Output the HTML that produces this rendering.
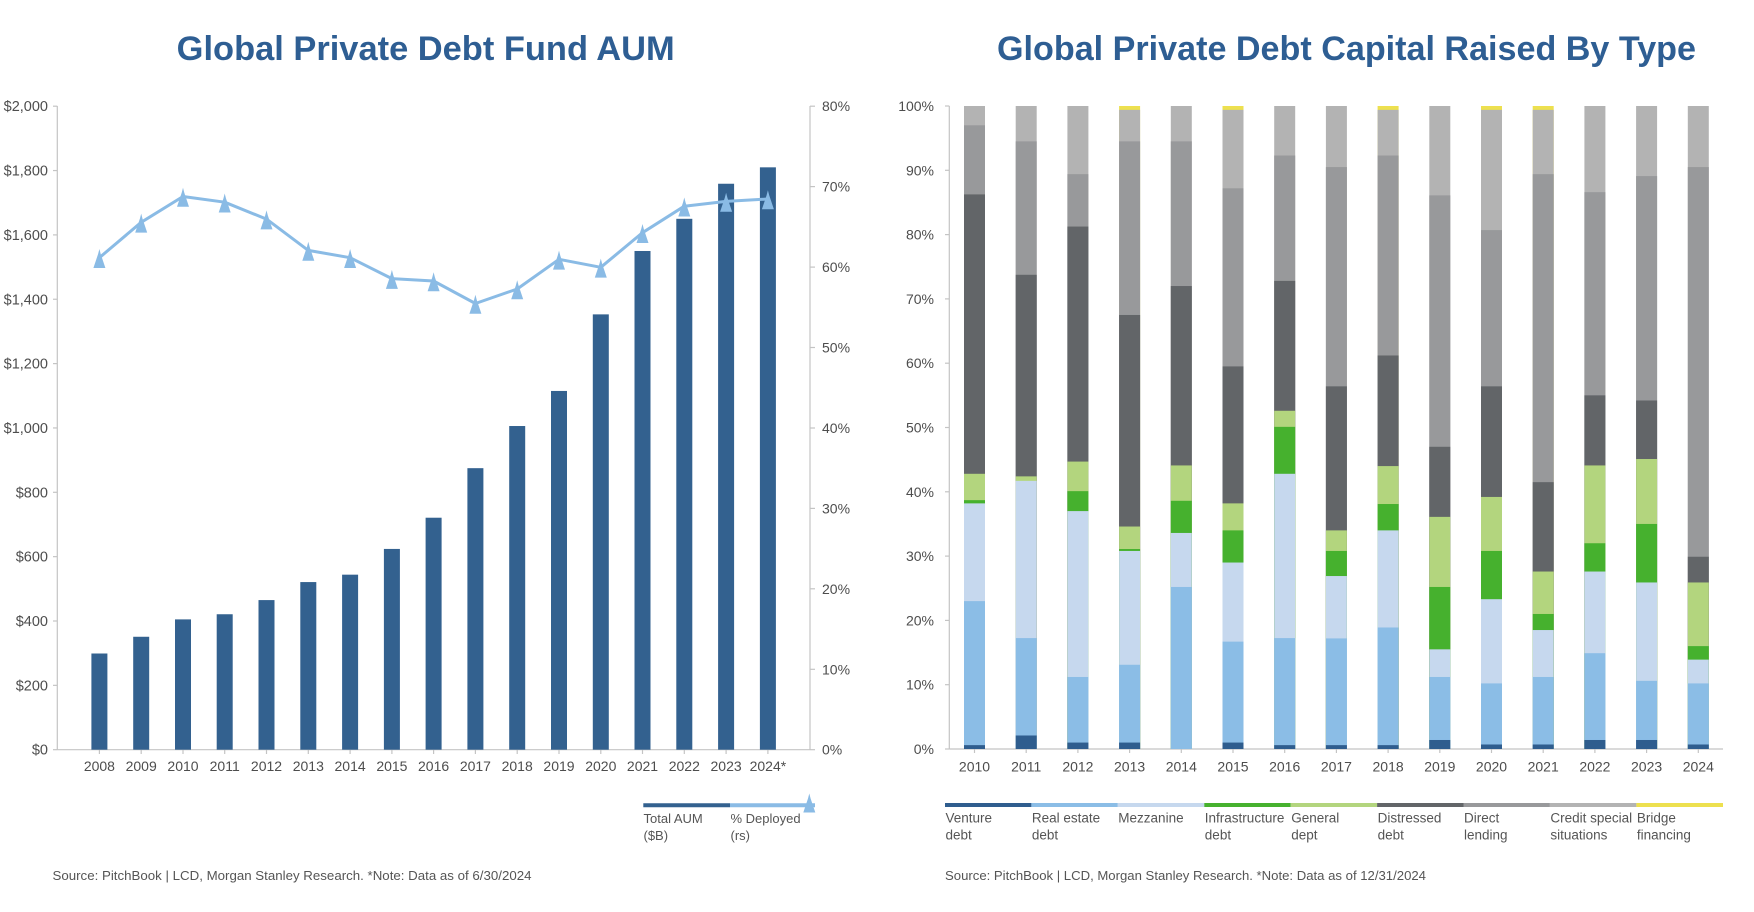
<!DOCTYPE html>
<html>
<head>
<meta charset="utf-8">
<style>
  html,body{margin:0;padding:0;background:#ffffff;}
  svg{display:block;}
  text{font-family:"Liberation Sans",Arial,sans-serif;}
</style>
</head>
<body>
<svg width="1754" height="912" viewBox="0 0 1754 912" xmlns="http://www.w3.org/2000/svg">
  <defs>
    <path id="tri" d="M0,-9.5 L1.3,-4.5 L6,9.5 L-6,9.5 L-1.3,-4.5 Z" fill="#8abbe5"/>
  </defs>
  <rect width="1754" height="912" fill="#ffffff"/>

  <!-- ================= LEFT CHART ================= -->
  <text x="176.7" y="60" font-size="34" font-weight="bold" fill="#2e5e93" textLength="498" lengthAdjust="spacingAndGlyphs">Global Private Debt Fund AUM</text>

  <!-- axes -->
  <g stroke="#c4c4c4" stroke-width="1.2" fill="none">
    <line x1="57.3" y1="106" x2="57.3" y2="749.7"/>
    <line x1="810" y1="106" x2="810" y2="749.7"/>
    <line x1="57.3" y1="749.7" x2="810" y2="749.7"/>
    <!-- left ticks -->
    <line x1="53" y1="749.7" x2="57.3" y2="749.7"/>
    <line x1="53" y1="685.35" x2="57.3" y2="685.35"/>
    <line x1="53" y1="621" x2="57.3" y2="621"/>
    <line x1="53" y1="556.65" x2="57.3" y2="556.65"/>
    <line x1="53" y1="492.3" x2="57.3" y2="492.3"/>
    <line x1="53" y1="427.95" x2="57.3" y2="427.95"/>
    <line x1="53" y1="363.6" x2="57.3" y2="363.6"/>
    <line x1="53" y1="299.25" x2="57.3" y2="299.25"/>
    <line x1="53" y1="234.9" x2="57.3" y2="234.9"/>
    <line x1="53" y1="170.55" x2="57.3" y2="170.55"/>
    <line x1="53" y1="106.2" x2="57.3" y2="106.2"/>
    <!-- right ticks -->
    <line x1="810" y1="749.7" x2="815" y2="749.7"/>
    <line x1="810" y1="669.3" x2="815" y2="669.3"/>
    <line x1="810" y1="588.8" x2="815" y2="588.8"/>
    <line x1="810" y1="508.4" x2="815" y2="508.4"/>
    <line x1="810" y1="428" x2="815" y2="428"/>
    <line x1="810" y1="347.5" x2="815" y2="347.5"/>
    <line x1="810" y1="267.1" x2="815" y2="267.1"/>
    <line x1="810" y1="186.6" x2="815" y2="186.6"/>
    <line x1="810" y1="106.2" x2="815" y2="106.2"/>
    <!-- x ticks -->
    <line x1="99.4" y1="749.7" x2="99.4" y2="754"/>
    <line x1="141.2" y1="749.7" x2="141.2" y2="754"/>
    <line x1="183" y1="749.7" x2="183" y2="754"/>
    <line x1="224.7" y1="749.7" x2="224.7" y2="754"/>
    <line x1="266.5" y1="749.7" x2="266.5" y2="754"/>
    <line x1="308.3" y1="749.7" x2="308.3" y2="754"/>
    <line x1="350.1" y1="749.7" x2="350.1" y2="754"/>
    <line x1="391.9" y1="749.7" x2="391.9" y2="754"/>
    <line x1="433.6" y1="749.7" x2="433.6" y2="754"/>
    <line x1="475.4" y1="749.7" x2="475.4" y2="754"/>
    <line x1="517.2" y1="749.7" x2="517.2" y2="754"/>
    <line x1="559" y1="749.7" x2="559" y2="754"/>
    <line x1="600.8" y1="749.7" x2="600.8" y2="754"/>
    <line x1="642.5" y1="749.7" x2="642.5" y2="754"/>
    <line x1="684.3" y1="749.7" x2="684.3" y2="754"/>
    <line x1="726.1" y1="749.7" x2="726.1" y2="754"/>
    <line x1="767.9" y1="749.7" x2="767.9" y2="754"/>
  </g>

  <!-- left y labels -->
  <g font-size="14.5" fill="#4d4d4d" text-anchor="end">
    <text x="48" y="754.7">$0</text>
    <text x="48" y="690.35">$200</text>
    <text x="48" y="626">$400</text>
    <text x="48" y="561.65">$600</text>
    <text x="48" y="497.3">$800</text>
    <text x="48" y="432.95">$1,000</text>
    <text x="48" y="368.6">$1,200</text>
    <text x="48" y="304.25">$1,400</text>
    <text x="48" y="239.9">$1,600</text>
    <text x="48" y="175.55">$1,800</text>
    <text x="48" y="111.2">$2,000</text>
  </g>
  <!-- right y labels -->
  <g font-size="14" fill="#4d4d4d" text-anchor="start">
    <text x="822" y="754.7">0%</text>
    <text x="822" y="674.3">10%</text>
    <text x="822" y="593.8">20%</text>
    <text x="822" y="513.4">30%</text>
    <text x="822" y="433">40%</text>
    <text x="822" y="352.5">50%</text>
    <text x="822" y="272.1">60%</text>
    <text x="822" y="191.6">70%</text>
    <text x="822" y="111.2">80%</text>
  </g>

  <!-- bars -->
  <g transform="translate(0,749.7) scale(1,-0.32175)" fill="#33618f">
    <rect x="91.4" y="0" width="16" height="299"/>
    <rect x="133.2" y="0" width="16" height="351"/>
    <rect x="175" y="0" width="16" height="405"/>
    <rect x="216.7" y="0" width="16" height="421"/>
    <rect x="258.5" y="0" width="16" height="465"/>
    <rect x="300.3" y="0" width="16" height="521"/>
    <rect x="342.1" y="0" width="16" height="544"/>
    <rect x="383.9" y="0" width="16" height="624"/>
    <rect x="425.6" y="0" width="16" height="721"/>
    <rect x="467.4" y="0" width="16" height="875"/>
    <rect x="509.2" y="0" width="16" height="1006"/>
    <rect x="551" y="0" width="16" height="1115"/>
    <rect x="592.8" y="0" width="16" height="1353"/>
    <rect x="634.5" y="0" width="16" height="1550"/>
    <rect x="676.3" y="0" width="16" height="1650"/>
    <rect x="718.1" y="0" width="16" height="1759"/>
    <rect x="759.9" y="0" width="16" height="1810"/>
  </g>

  <!-- line -->
  <polyline fill="none" stroke="#8abbe5" stroke-width="3" stroke-linejoin="round" stroke-linecap="round"
    points="99.4,257.7 141.2,222.3 183,196.5 224.7,202.2 266.5,219.1 308.3,250.4 350.1,257.7 391.9,278.6 433.6,281 475.4,303.5 517.2,289 559,259.3 600.8,267.3 642.5,232.7 684.3,206.2 726.1,201.4 767.9,199"/>
  <use href="#tri" x="99.4" y="258.5"/>
  <use href="#tri" x="141.2" y="223.1"/>
  <use href="#tri" x="183" y="197.3"/>
  <use href="#tri" x="224.7" y="203"/>
  <use href="#tri" x="266.5" y="219.9"/>
  <use href="#tri" x="308.3" y="251.2"/>
  <use href="#tri" x="350.1" y="258.5"/>
  <use href="#tri" x="391.9" y="279.4"/>
  <use href="#tri" x="433.6" y="281.8"/>
  <use href="#tri" x="475.4" y="304.3"/>
  <use href="#tri" x="517.2" y="289.8"/>
  <use href="#tri" x="559" y="260.1"/>
  <use href="#tri" x="600.8" y="268.1"/>
  <use href="#tri" x="642.5" y="233.5"/>
  <use href="#tri" x="684.3" y="207"/>
  <use href="#tri" x="726.1" y="202.2"/>
  <use href="#tri" x="767.9" y="199.8"/>

  <!-- x labels -->
  <g font-size="14" fill="#4d4d4d" text-anchor="middle">
    <text x="99.4" y="771">2008</text>
    <text x="141.2" y="771">2009</text>
    <text x="183" y="771">2010</text>
    <text x="224.7" y="771">2011</text>
    <text x="266.5" y="771">2012</text>
    <text x="308.3" y="771">2013</text>
    <text x="350.1" y="771">2014</text>
    <text x="391.9" y="771">2015</text>
    <text x="433.6" y="771">2016</text>
    <text x="475.4" y="771">2017</text>
    <text x="517.2" y="771">2018</text>
    <text x="559" y="771">2019</text>
    <text x="600.8" y="771">2020</text>
    <text x="642.5" y="771">2021</text>
    <text x="684.3" y="771">2022</text>
    <text x="726.1" y="771">2023</text>
    <text x="767.9" y="771">2024*</text>
  </g>

  <!-- left legend -->
  <line x1="643.3" y1="805.3" x2="730" y2="805.3" stroke="#33618f" stroke-width="4"/>
  <line x1="730" y1="805.3" x2="815" y2="805.3" stroke="#8abbe5" stroke-width="4"/>
  <use href="#tri" x="809.3" y="803"/>
  <g font-size="13" fill="#555555">
    <text x="643.5" y="823">Total AUM</text>
    <text x="643.5" y="840">($B)</text>
    <text x="730.5" y="823">% Deployed</text>
    <text x="730.5" y="840">(rs)</text>
  </g>

  <text x="52.5" y="880" font-size="13" fill="#555555" textLength="479" lengthAdjust="spacingAndGlyphs">Source: PitchBook | LCD, Morgan Stanley Research. *Note: Data as of 6/30/2024</text>

  <!-- ================= RIGHT CHART ================= -->
  <text x="997" y="60" font-size="34" font-weight="bold" fill="#2e5e93" textLength="699" lengthAdjust="spacingAndGlyphs">Global Private Debt Capital Raised By Type</text>

  <g stroke="#c4c4c4" stroke-width="1.2" fill="none">
    <line x1="949.3" y1="106" x2="949.3" y2="749"/>
    <line x1="949.3" y1="749" x2="1723" y2="749"/>
    <line x1="945" y1="749" x2="949.3" y2="749"/>
    <line x1="945" y1="684.7" x2="949.3" y2="684.7"/>
    <line x1="945" y1="620.4" x2="949.3" y2="620.4"/>
    <line x1="945" y1="556.1" x2="949.3" y2="556.1"/>
    <line x1="945" y1="491.8" x2="949.3" y2="491.8"/>
    <line x1="945" y1="427.5" x2="949.3" y2="427.5"/>
    <line x1="945" y1="363.2" x2="949.3" y2="363.2"/>
    <line x1="945" y1="298.9" x2="949.3" y2="298.9"/>
    <line x1="945" y1="234.6" x2="949.3" y2="234.6"/>
    <line x1="945" y1="170.3" x2="949.3" y2="170.3"/>
    <line x1="945" y1="106" x2="949.3" y2="106"/>
    <line x1="974.5" y1="749" x2="974.5" y2="753"/>
    <line x1="1026.2" y1="749" x2="1026.2" y2="753"/>
    <line x1="1077.9" y1="749" x2="1077.9" y2="753"/>
    <line x1="1129.6" y1="749" x2="1129.6" y2="753"/>
    <line x1="1181.3" y1="749" x2="1181.3" y2="753"/>
    <line x1="1233" y1="749" x2="1233" y2="753"/>
    <line x1="1284.7" y1="749" x2="1284.7" y2="753"/>
    <line x1="1336.4" y1="749" x2="1336.4" y2="753"/>
    <line x1="1388.1" y1="749" x2="1388.1" y2="753"/>
    <line x1="1439.8" y1="749" x2="1439.8" y2="753"/>
    <line x1="1491.5" y1="749" x2="1491.5" y2="753"/>
    <line x1="1543.2" y1="749" x2="1543.2" y2="753"/>
    <line x1="1594.9" y1="749" x2="1594.9" y2="753"/>
    <line x1="1646.6" y1="749" x2="1646.6" y2="753"/>
    <line x1="1698.3" y1="749" x2="1698.3" y2="753"/>
  </g>

  <g font-size="14" fill="#4d4d4d" text-anchor="end">
    <text x="934" y="754">0%</text>
    <text x="934" y="689.7">10%</text>
    <text x="934" y="625.4">20%</text>
    <text x="934" y="561.1">30%</text>
    <text x="934" y="496.8">40%</text>
    <text x="934" y="432.5">50%</text>
    <text x="934" y="368.2">60%</text>
    <text x="934" y="303.9">70%</text>
    <text x="934" y="239.6">80%</text>
    <text x="934" y="175.3">90%</text>
    <text x="934" y="111">100%</text>
  </g>

  <!-- stacked bars: cumulative heights drawn largest first -->
  <!-- 2010 -->
  <g transform="translate(964,749) scale(1,-6.43)">
    <rect x="0" y="0" width="21" height="100" fill="#b3b3b3"/>
    <rect x="0" y="0" width="21" height="97" fill="#98999b"/>
    <rect x="0" y="0" width="21" height="86.25" fill="#626568"/>
    <rect x="0" y="0" width="21" height="42.8" fill="#b3d57e"/>
    <rect x="0" y="0" width="21" height="38.7" fill="#46b12e"/>
    <rect x="0" y="0" width="21" height="38.2" fill="#c6d8ee"/>
    <rect x="0" y="0" width="21" height="23" fill="#8bbde6"/>
    <rect x="0" y="0" width="21" height="0.6" fill="#2f5d8e"/>
  </g>
  <!-- 2011 -->
  <g transform="translate(1015.7,749) scale(1,-6.43)">
    <rect x="0" y="0" width="21" height="100" fill="#b3b3b3"/>
    <rect x="0" y="0" width="21" height="94.5" fill="#98999b"/>
    <rect x="0" y="0" width="21" height="73.75" fill="#626568"/>
    <rect x="0" y="0" width="21" height="42.4" fill="#b3d57e"/>
    <rect x="0" y="0" width="21" height="41.7" fill="#c6d8ee"/>
    <rect x="0" y="0" width="21" height="17.25" fill="#8bbde6"/>
    <rect x="0" y="0" width="21" height="2.1" fill="#2f5d8e"/>
  </g>
  <!-- 2012 -->
  <g transform="translate(1067.4,749) scale(1,-6.43)">
    <rect x="0" y="0" width="21" height="100" fill="#b3b3b3"/>
    <rect x="0" y="0" width="21" height="89.4" fill="#98999b"/>
    <rect x="0" y="0" width="21" height="81.25" fill="#626568"/>
    <rect x="0" y="0" width="21" height="44.7" fill="#b3d57e"/>
    <rect x="0" y="0" width="21" height="40.1" fill="#46b12e"/>
    <rect x="0" y="0" width="21" height="37" fill="#c6d8ee"/>
    <rect x="0" y="0" width="21" height="11.2" fill="#8bbde6"/>
    <rect x="0" y="0" width="21" height="1" fill="#2f5d8e"/>
  </g>
  <!-- 2013 -->
  <g transform="translate(1119.1,749) scale(1,-6.43)">
    <rect x="0" y="0" width="21" height="100" fill="#ede04f"/>
    <rect x="0" y="0" width="21" height="99.4" fill="#b3b3b3"/>
    <rect x="0" y="0" width="21" height="94.5" fill="#98999b"/>
    <rect x="0" y="0" width="21" height="67.5" fill="#626568"/>
    <rect x="0" y="0" width="21" height="34.6" fill="#b3d57e"/>
    <rect x="0" y="0" width="21" height="31.1" fill="#46b12e"/>
    <rect x="0" y="0" width="21" height="30.8" fill="#c6d8ee"/>
    <rect x="0" y="0" width="21" height="13.1" fill="#8bbde6"/>
    <rect x="0" y="0" width="21" height="1" fill="#2f5d8e"/>
  </g>
  <!-- 2014 -->
  <g transform="translate(1170.8,749) scale(1,-6.43)">
    <rect x="0" y="0" width="21" height="100" fill="#b3b3b3"/>
    <rect x="0" y="0" width="21" height="94.5" fill="#98999b"/>
    <rect x="0" y="0" width="21" height="72" fill="#626568"/>
    <rect x="0" y="0" width="21" height="44.1" fill="#b3d57e"/>
    <rect x="0" y="0" width="21" height="38.6" fill="#46b12e"/>
    <rect x="0" y="0" width="21" height="33.6" fill="#c6d8ee"/>
    <rect x="0" y="0" width="21" height="25.2" fill="#8bbde6"/>
  </g>
  <!-- 2015 -->
  <g transform="translate(1222.5,749) scale(1,-6.43)">
    <rect x="0" y="0" width="21" height="100" fill="#ede04f"/>
    <rect x="0" y="0" width="21" height="99.4" fill="#b3b3b3"/>
    <rect x="0" y="0" width="21" height="87.2" fill="#98999b"/>
    <rect x="0" y="0" width="21" height="59.5" fill="#626568"/>
    <rect x="0" y="0" width="21" height="38.2" fill="#b3d57e"/>
    <rect x="0" y="0" width="21" height="34" fill="#46b12e"/>
    <rect x="0" y="0" width="21" height="29" fill="#c6d8ee"/>
    <rect x="0" y="0" width="21" height="16.7" fill="#8bbde6"/>
    <rect x="0" y="0" width="21" height="1" fill="#2f5d8e"/>
  </g>
  <!-- 2016 -->
  <g transform="translate(1274.2,749) scale(1,-6.43)">
    <rect x="0" y="0" width="21" height="100" fill="#b3b3b3"/>
    <rect x="0" y="0" width="21" height="92.3" fill="#98999b"/>
    <rect x="0" y="0" width="21" height="72.8" fill="#626568"/>
    <rect x="0" y="0" width="21" height="52.6" fill="#b3d57e"/>
    <rect x="0" y="0" width="21" height="50.1" fill="#46b12e"/>
    <rect x="0" y="0" width="21" height="42.8" fill="#c6d8ee"/>
    <rect x="0" y="0" width="21" height="17.25" fill="#8bbde6"/>
    <rect x="0" y="0" width="21" height="0.6" fill="#2f5d8e"/>
  </g>
  <!-- 2017 -->
  <g transform="translate(1325.9,749) scale(1,-6.43)">
    <rect x="0" y="0" width="21" height="100" fill="#b3b3b3"/>
    <rect x="0" y="0" width="21" height="90.5" fill="#98999b"/>
    <rect x="0" y="0" width="21" height="56.4" fill="#626568"/>
    <rect x="0" y="0" width="21" height="34" fill="#b3d57e"/>
    <rect x="0" y="0" width="21" height="30.8" fill="#46b12e"/>
    <rect x="0" y="0" width="21" height="26.9" fill="#c6d8ee"/>
    <rect x="0" y="0" width="21" height="17.2" fill="#8bbde6"/>
    <rect x="0" y="0" width="21" height="0.6" fill="#2f5d8e"/>
  </g>
  <!-- 2018 -->
  <g transform="translate(1377.6,749) scale(1,-6.43)">
    <rect x="0" y="0" width="21" height="100" fill="#ede04f"/>
    <rect x="0" y="0" width="21" height="99.4" fill="#b3b3b3"/>
    <rect x="0" y="0" width="21" height="92.3" fill="#98999b"/>
    <rect x="0" y="0" width="21" height="61.2" fill="#626568"/>
    <rect x="0" y="0" width="21" height="44" fill="#b3d57e"/>
    <rect x="0" y="0" width="21" height="38.1" fill="#46b12e"/>
    <rect x="0" y="0" width="21" height="34" fill="#c6d8ee"/>
    <rect x="0" y="0" width="21" height="18.9" fill="#8bbde6"/>
    <rect x="0" y="0" width="21" height="0.6" fill="#2f5d8e"/>
  </g>
  <!-- 2019 -->
  <g transform="translate(1429.3,749) scale(1,-6.43)">
    <rect x="0" y="0" width="21" height="100" fill="#b3b3b3"/>
    <rect x="0" y="0" width="21" height="86.1" fill="#98999b"/>
    <rect x="0" y="0" width="21" height="47" fill="#626568"/>
    <rect x="0" y="0" width="21" height="36.1" fill="#b3d57e"/>
    <rect x="0" y="0" width="21" height="25.2" fill="#46b12e"/>
    <rect x="0" y="0" width="21" height="15.5" fill="#c6d8ee"/>
    <rect x="0" y="0" width="21" height="11.2" fill="#8bbde6"/>
    <rect x="0" y="0" width="21" height="1.4" fill="#2f5d8e"/>
  </g>
  <!-- 2020 -->
  <g transform="translate(1481,749) scale(1,-6.43)">
    <rect x="0" y="0" width="21" height="100" fill="#ede04f"/>
    <rect x="0" y="0" width="21" height="99.4" fill="#b3b3b3"/>
    <rect x="0" y="0" width="21" height="80.7" fill="#98999b"/>
    <rect x="0" y="0" width="21" height="56.4" fill="#626568"/>
    <rect x="0" y="0" width="21" height="39.2" fill="#b3d57e"/>
    <rect x="0" y="0" width="21" height="30.8" fill="#46b12e"/>
    <rect x="0" y="0" width="21" height="23.3" fill="#c6d8ee"/>
    <rect x="0" y="0" width="21" height="10.2" fill="#8bbde6"/>
    <rect x="0" y="0" width="21" height="0.7" fill="#2f5d8e"/>
  </g>
  <!-- 2021 -->
  <g transform="translate(1532.7,749) scale(1,-6.43)">
    <rect x="0" y="0" width="21" height="100" fill="#ede04f"/>
    <rect x="0" y="0" width="21" height="99.4" fill="#b3b3b3"/>
    <rect x="0" y="0" width="21" height="89.4" fill="#98999b"/>
    <rect x="0" y="0" width="21" height="41.5" fill="#626568"/>
    <rect x="0" y="0" width="21" height="27.6" fill="#b3d57e"/>
    <rect x="0" y="0" width="21" height="21" fill="#46b12e"/>
    <rect x="0" y="0" width="21" height="18.5" fill="#c6d8ee"/>
    <rect x="0" y="0" width="21" height="11.2" fill="#8bbde6"/>
    <rect x="0" y="0" width="21" height="0.7" fill="#2f5d8e"/>
  </g>
  <!-- 2022 -->
  <g transform="translate(1584.4,749) scale(1,-6.43)">
    <rect x="0" y="0" width="21" height="100" fill="#b3b3b3"/>
    <rect x="0" y="0" width="21" height="86.6" fill="#98999b"/>
    <rect x="0" y="0" width="21" height="55" fill="#626568"/>
    <rect x="0" y="0" width="21" height="44.1" fill="#b3d57e"/>
    <rect x="0" y="0" width="21" height="32" fill="#46b12e"/>
    <rect x="0" y="0" width="21" height="27.6" fill="#c6d8ee"/>
    <rect x="0" y="0" width="21" height="14.9" fill="#8bbde6"/>
    <rect x="0" y="0" width="21" height="1.4" fill="#2f5d8e"/>
  </g>
  <!-- 2023 -->
  <g transform="translate(1636.1,749) scale(1,-6.43)">
    <rect x="0" y="0" width="21" height="100" fill="#b3b3b3"/>
    <rect x="0" y="0" width="21" height="89.1" fill="#98999b"/>
    <rect x="0" y="0" width="21" height="54.2" fill="#626568"/>
    <rect x="0" y="0" width="21" height="45.1" fill="#b3d57e"/>
    <rect x="0" y="0" width="21" height="35" fill="#46b12e"/>
    <rect x="0" y="0" width="21" height="25.9" fill="#c6d8ee"/>
    <rect x="0" y="0" width="21" height="10.6" fill="#8bbde6"/>
    <rect x="0" y="0" width="21" height="1.4" fill="#2f5d8e"/>
  </g>
  <!-- 2024 -->
  <g transform="translate(1687.8,749) scale(1,-6.43)">
    <rect x="0" y="0" width="21" height="100" fill="#b3b3b3"/>
    <rect x="0" y="0" width="21" height="90.5" fill="#98999b"/>
    <rect x="0" y="0" width="21" height="29.9" fill="#626568"/>
    <rect x="0" y="0" width="21" height="25.9" fill="#b3d57e"/>
    <rect x="0" y="0" width="21" height="16" fill="#46b12e"/>
    <rect x="0" y="0" width="21" height="13.9" fill="#c6d8ee"/>
    <rect x="0" y="0" width="21" height="10.2" fill="#8bbde6"/>
    <rect x="0" y="0" width="21" height="0.7" fill="#2f5d8e"/>
  </g>

  <g font-size="14" fill="#4d4d4d" text-anchor="middle">
    <text x="974.5" y="771.5">2010</text>
    <text x="1026.2" y="771.5">2011</text>
    <text x="1077.9" y="771.5">2012</text>
    <text x="1129.6" y="771.5">2013</text>
    <text x="1181.3" y="771.5">2014</text>
    <text x="1233" y="771.5">2015</text>
    <text x="1284.7" y="771.5">2016</text>
    <text x="1336.4" y="771.5">2017</text>
    <text x="1388.1" y="771.5">2018</text>
    <text x="1439.8" y="771.5">2019</text>
    <text x="1491.5" y="771.5">2020</text>
    <text x="1543.2" y="771.5">2021</text>
    <text x="1594.9" y="771.5">2022</text>
    <text x="1646.6" y="771.5">2023</text>
    <text x="1698.3" y="771.5">2024</text>
  </g>

  <!-- right legend -->
  <g stroke-width="4">
    <line x1="945" y1="805" x2="1031.4" y2="805" stroke="#2f5d8e"/>
    <line x1="1031.4" y1="805" x2="1117.8" y2="805" stroke="#8bbde6"/>
    <line x1="1117.8" y1="805" x2="1204.3" y2="805" stroke="#c6d8ee"/>
    <line x1="1204.3" y1="805" x2="1290.7" y2="805" stroke="#46b12e"/>
    <line x1="1290.7" y1="805" x2="1377.1" y2="805" stroke="#b3d57e"/>
    <line x1="1377.1" y1="805" x2="1463.5" y2="805" stroke="#626568"/>
    <line x1="1463.5" y1="805" x2="1549.9" y2="805" stroke="#98999b"/>
    <line x1="1549.9" y1="805" x2="1636.4" y2="805" stroke="#b3b3b3"/>
    <line x1="1636.4" y1="805" x2="1723" y2="805" stroke="#ede04f"/>
  </g>
  <g font-size="13.5" fill="#555555">
    <text x="945.5" y="822.5">Venture</text>
    <text x="945.5" y="839.5">debt</text>
    <text x="1031.9" y="822.5">Real estate</text>
    <text x="1031.9" y="839.5">debt</text>
    <text x="1118.3" y="822.5">Mezzanine</text>
    <text x="1204.8" y="822.5">Infrastructure</text>
    <text x="1204.8" y="839.5">debt</text>
    <text x="1291.2" y="822.5">General</text>
    <text x="1291.2" y="839.5">dept</text>
    <text x="1377.6" y="822.5">Distressed</text>
    <text x="1377.6" y="839.5">debt</text>
    <text x="1464" y="822.5">Direct</text>
    <text x="1464" y="839.5">lending</text>
    <text x="1550.4" y="822.5">Credit special</text>
    <text x="1550.4" y="839.5">situations</text>
    <text x="1636.9" y="822.5">Bridge</text>
    <text x="1636.9" y="839.5">financing</text>
  </g>

  <text x="945" y="880" font-size="13" fill="#555555" textLength="481" lengthAdjust="spacingAndGlyphs">Source: PitchBook | LCD, Morgan Stanley Research. *Note: Data as of 12/31/2024</text>
</svg>
</body>
</html>
